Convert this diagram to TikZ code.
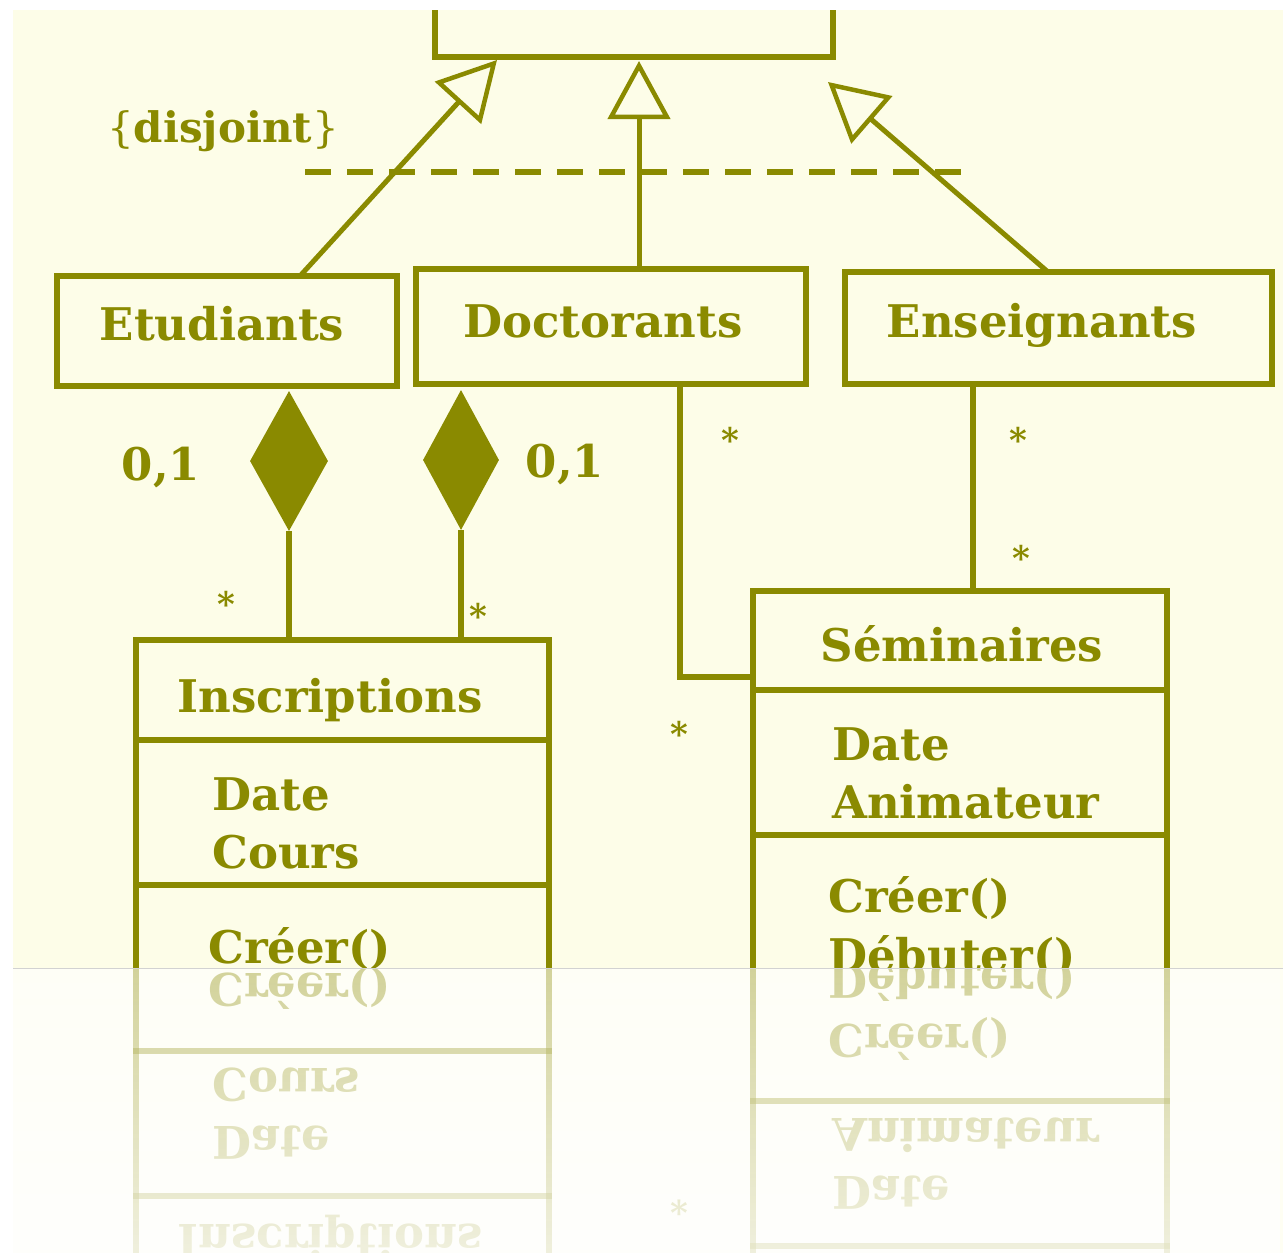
\documentclass[tikz,border=0pt]{standalone}
\usepackage{fontspec}
\setmainfont{DejaVu Serif}
\usetikzlibrary{arrows.meta,shapes.geometric,fadings}

\definecolor{umlink}{HTML}{8A8A00}
\definecolor{umlpaper}{HTML}{FDFDE8}
\definecolor{rule}{HTML}{D2D2D2}

% white veil: clear at the top, opaque at the bottom
\tikzfading[name=veilfade, top color=transparent!100, bottom color=transparent!0]

% lower part of the diagram: paper, the two detailed classes (pixel units, y down)
\newcommand\umllower{%
  \fill[umlpaper] (13,10) rectangle (1283,968);
  \node[clsbox, minimum width=413, minimum height=370] (ins) at (342.5,825) {};
  \node[clsbox, minimum width=414, minimum height=419] (sem) at (960,800.5) {};
  % compartments
  \draw[umlline] (ins.west |- 0,740) -- (ins.east |- 0,740);
  \draw[umlline] (ins.west |- 0,885) -- (ins.east |- 0,885);
  \draw[umlline] (sem.west |- 0,690) -- (sem.east |- 0,690);
  \draw[umlline] (sem.west |- 0,835) -- (sem.east |- 0,835);
  \node[title] (insT) at (330,712) {Inscriptions};
  \node[member] (insA1) at (212,810) {Date};
  \node[member] (insA2) at (212,868) {Cours};
  \node[member] (insM1) at (208,963) {Créer()};
  \node[member] (semA1) at (832,760) {Date};
  \node[member] (semA2) at (832,818) {Animateur};
  \node[member] (semM1) at (828,912) {Créer()};
  \node[member] (semM2) at (828,971) {Débuter()};
  \node[star] (sS)  at (679,746) {*};
}

% upper part: the hierarchy and the associations
\newcommand\umlupper{%
  \node[clsbox, minimum width=398, minimum height=77]  (sup) at (634,18.5) {};
  \node[clsbox, minimum width=340, minimum height=110] (etu) at (227,331) {};
  \node[clsbox, minimum width=390, minimum height=115] (doc) at (611,326.5) {};
  \node[clsbox, minimum width=427, minimum height=112] (ens) at (1058.5,328) {};
  \node[title] (etuT) at (222,340) {Etudiants};
  \node[title] (docT) at (603,337) {Doctorants};
  \node[title] (ensT) at (1042,337) {Enseignants};
  \node[title] (semT) at (962,661) {Séminaires};
  % generalisation
  \coordinate (etuUp) at (300,276);
  \coordinate (supL)  at (497,60);
  \coordinate (docUp) at (639,269);
  \coordinate (supM)  at (639,61);
  \coordinate (ensUp) at (1048,272);
  \coordinate (supR)  at (828,82);
  \draw[gen] (etuUp) -- (supL);
  \draw[gen] (docUp) -- (supM);
  \draw[gen] (ensUp) -- (supR);
  \coordinate (disjA) at (305,172);
  \coordinate (disjB) at (962,172);
  \draw[umlline, line width=5.5, dash pattern=on 26pt off 16pt] (disjA) -- (disjB);
  \node[title, font=\fontsize{42}{50}\selectfont] (disj) at (223,142)
    {{\mdseries\{}\textbf{disjoint}{\mdseries\}}};
  % compositions
  \node[comp, minimum width=78, minimum height=140] (dL) at (289,461) {};
  \node[comp, minimum width=76, minimum height=140] (dR) at (461,460) {};
  \draw[umlline] (dL.south) -- (dL.south |- ins.north);
  \draw[umlline] (dR.south) -- (dR.south |- ins.north);
  \node[title] (mL) at (161,480) {0,1};
  \node[title] (mR) at (565,477) {0,1};
  \node[star] (sL) at (226,616) {*};
  \node[star] (sR) at (478,628) {*};
  % associations
  \coordinate (docPort) at (680,384);
  \coordinate (semPort) at (753,677);
  \draw[umlline] (docPort) |- (semPort);
  \coordinate (ensPort) at (973,384);
  \draw[umlline] (ensPort) -- (ensPort |- sem.north);
  \node[star] (sD)  at (730,452) {*};
  \node[star] (sE1) at (1018,452) {*};
  \node[star] (sE2) at (1021,570) {*};
}

\begin{document}
\begin{tikzpicture}[x=1pt, y=-1pt,
  umlline/.style={draw=umlink, line width=5.5},
  clsbox/.style={rectangle, draw=umlink, line width=5.5, inner sep=0pt},
  title/.style={text=umlink, anchor=base, inner sep=0pt,
    font=\fontsize{45}{54}\selectfont\bfseries},
  member/.style={title, anchor=base west},
  star/.style={text=umlink, anchor=base, inner sep=0pt,
    font=\fontsize{34}{40}\selectfont\bfseries},
  comp/.style={diamond, fill=umlink, draw=none, inner sep=0pt},
  gen/.style={draw=umlink, line width=5,
    -{Triangle[open, length=58pt, width=62pt, line width=4.5pt]}},
]
\useasboundingbox (0,0) rectangle (1283,1253);

\begin{scope}
  \clip (13,10) rectangle (1283,968);
  \umllower
  \umlupper
\end{scope}

% mirrored copy below the base line
\begin{scope}
  \clip (13,968) rectangle (1283,1253);
  \begin{scope}[shift={(0,1936)}, yscale=-1, transform shape, opacity=0.5]
    \umllower
  \end{scope}
  \fill[white, path fading=veilfade] (0,825) rectangle (1283,1396);
\end{scope}

\draw[rule, line width=1.5] (13,968.5) -- (1283,968.5);
\end{tikzpicture}
\end{document}
